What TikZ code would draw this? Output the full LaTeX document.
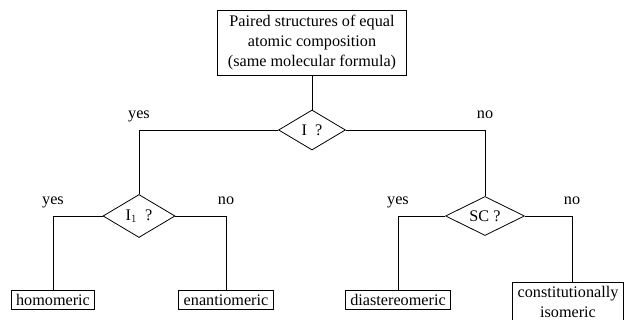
\documentclass[tikz,border=0pt]{standalone}
\usepackage{fontspec}
\setmainfont{Liberation Serif}
\usetikzlibrary{shapes.geometric}
\tikzset{
  box/.style={draw, rectangle, inner xsep=5pt, inner ysep=4pt, align=center},
  query/.style={draw, diamond, aspect=2, inner sep=0pt},
  answer/.style={anchor=base, yshift=11pt, inner sep=0pt}
}
\begin{document}
\begin{tikzpicture}[x=1pt,y=-1pt,line width=0.8pt,font=\fontsize{16.2}{20}\selectfont]
  \useasboundingbox (0,0) rectangle (624,320);

% top question
  \node[box, inner xsep=10pt, inner ysep=5pt] (pair) at (312,43) {Paired structures of equal\\atomic composition\\(same molecular formula)};
  \node[query, minimum width=67pt, minimum height=40pt] (qI)  at (312,130) {I\ \ ?};
  \draw (pair) -- (qI);

% second level questions
  \node[query, minimum width=72pt, minimum height=43pt] (qIone) at (139,216) {I$_1$\ \ ?};
  \node[query, minimum width=79pt, minimum height=39pt] (qSC)   at (485,216) {SC ?};
  \draw (qI.west) -| node[answer] (yI) {yes} (qIone.north);
  \draw (qI.east) -| node[answer] (nI) {no}  (qSC.north);

% results
  \node[box, anchor=north] (homo)  at (53,290)  {homomeric};
  \node[box, anchor=north] (enan)  at (226,290) {enantiomeric};
  \node[box, anchor=north] (dia)   at (398,290) {diastereomeric};
  \node[box, anchor=north] (const) at (568,282) {constitutionally\\isomeric};
  \draw (qIone.west) -| node[answer] (yIone) {yes} (homo.north);
  \draw (qIone.east) -| node[answer] (nIone) {no}  (enan.north);
  \draw (qSC.west)   -| node[answer] (ySC)   {yes} (dia.north);
  \draw (qSC.east)   -| node[answer] (nSC)   {no}  ([xshift=4pt]const.north);

\end{tikzpicture}
\end{document}
